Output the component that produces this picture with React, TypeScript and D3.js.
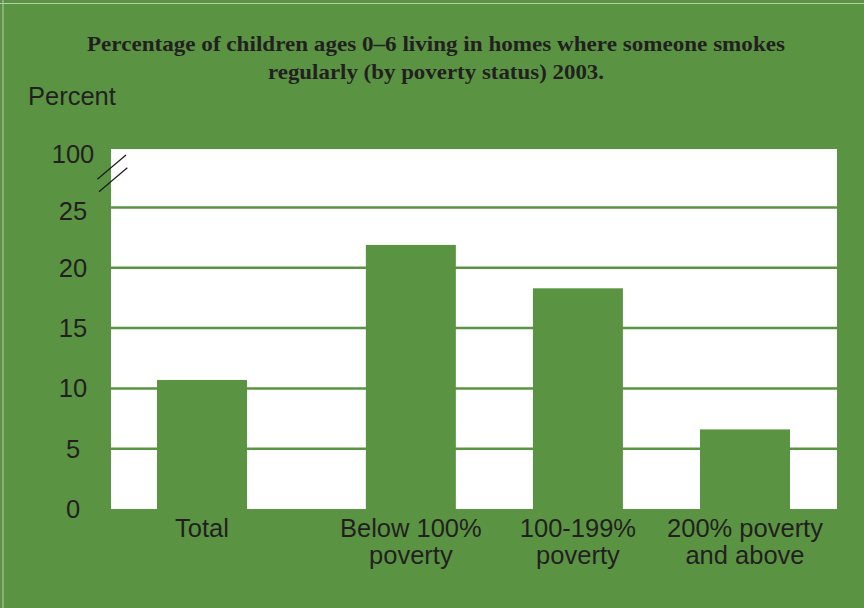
import React from "react";
import * as d3 from "d3";

const titleLines = [
  "Percentage of children ages 0–6 living in homes where someone smokes",
  "regularly (by poverty status) 2003.",
];
const yAxisLabel = "Percent";
const categories = [["Total"], ["Below 100%", "poverty"], ["100-199%", "poverty"], ["200% poverty", "and above"]];
const values = [10.7, 21.9, 18.3, 6.6];
const slots = [0, 1.25, 2.25, 3.25];
const yTicks = [0, 5, 10, 15, 20, 25];
const topTick = 100;

const W = 864;
const H = 608;
const GREEN = "#5a9443";
const TEXT = "#231f20";

export default function App() {
  const plotL = 111, plotR = 837, plotT = 149, plotB = 509;
  const y = d3.scaleLinear().domain([0, 25, topTick]).range([plotB, 207.5, plotT]);
  const x = d3.scaleLinear().domain([0, 3.25]).range([202, 745]);
  const barW = 90;
  const sans = "'Liberation Sans', Arial, sans-serif";
  const fs = 25.5;
  return (
    <svg width={W} height={H} style={{ position: "absolute", left: 0, top: 0 }}>
      <rect x={0} y={0} width={W} height={H} fill={GREEN} />
      <line x1={0} x2={W} y1={3.5} y2={3.5} stroke="#b8c9b0" strokeWidth={1} />
      <line x1={3} x2={3} y1={0} y2={H} stroke="#b8c9b0" strokeWidth={1} />
      {titleLines.map((t, i) => (
        <text key={i} x={436} y={51 + i * 28} textAnchor="middle" fontFamily="'Liberation Serif', 'Times New Roman', serif" fontWeight="bold" fontSize={21} fill={TEXT} textLength={i === 0 ? 698 : 336} lengthAdjust="spacingAndGlyphs">
          {t}
        </text>
      ))}
      <text x={28} y={105} fontFamily={sans} fontSize={fs} fill={TEXT}>{yAxisLabel}</text>
      <rect x={plotL} y={plotT} width={plotR - plotL} height={plotB - plotT} fill="#ffffff" />
      {yTicks.filter((t) => t > 0).map((t) => (
        <line key={t} x1={plotL} x2={plotR} y1={y(t)} y2={y(t)} stroke={GREEN} strokeWidth={2.5} />
      ))}
      {values.map((v, i) => (
        <rect key={i} x={x(slots[i]) - barW / 2} y={y(v)} width={barW} height={plotB - y(v)} fill={GREEN} />
      ))}
      {[...yTicks, topTick].map((t) => (
        <text key={t} x={73} y={t === topTick ? y(t) + 5 : t === 25 ? y(t) + 3 : y(t)} textAnchor="middle" dominantBaseline="central" fontFamily={sans} fontSize={fs} fill={TEXT}>
          {t}
        </text>
      ))}
      <line x1={97.3} y1={179.3} x2={126} y2={155} stroke="#1a1a1a" strokeWidth={1.2} />
      <line x1={99} y1={191.7} x2={127.3} y2={167.7} stroke="#1a1a1a" strokeWidth={1.2} />
      {categories.map((lines, i) => (
        <text key={i} x={x(slots[i])} y={537} textAnchor="middle" fontFamily={sans} fontSize={fs} fill={TEXT}>
          {lines.map((l, j) => (
            <tspan key={j} x={x(slots[i])} dy={j === 0 ? 0 : 27}>{l}</tspan>
          ))}
        </text>
      ))}
    </svg>
  );
}
